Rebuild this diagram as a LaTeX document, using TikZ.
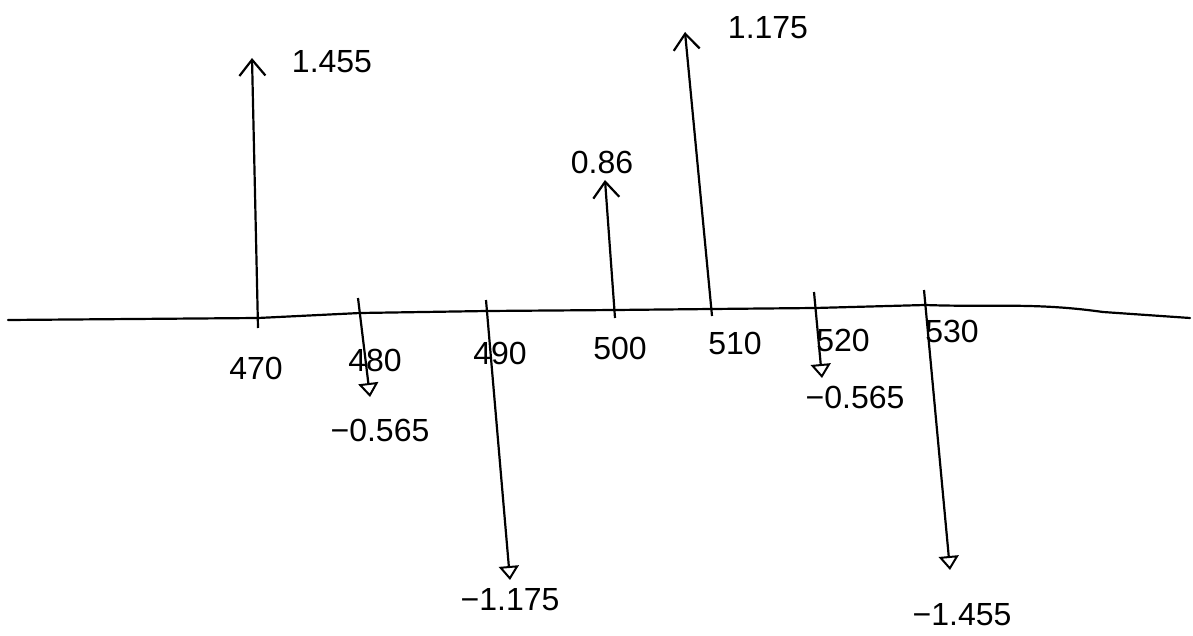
\documentclass[tikz,border=0pt]{standalone}
\usepackage{fontspec}
\setmainfont{Liberation Sans}
\usetikzlibrary{arrows.meta}
\begin{document}
\begin{tikzpicture}[x=1pt,y=-1pt,
  axisline/.style={line width=2.2pt,line cap=round},
  uparrow/.style={line width=2.2pt,-{Straight Barb[length=16pt,width=26pt,line width=2.2pt]}},
  downarrow/.style={line width=2.2pt,-{Triangle[open,length=14pt,width=20pt,line width=2pt]}},
  val/.style={font=\fontsize{32}{36}\selectfont,inner sep=0pt},
  tick/.style={font=\fontsize{32}{36}\selectfont,inner sep=0pt}]
\useasboundingbox (0,0) rectangle (1193,636);
% axis points
\coordinate (a0) at (8,320);
\coordinate (p470) at (258,318);
\coordinate (p480) at (360,313);
\coordinate (p490) at (487,311);
\coordinate (p500) at (615,310);
\coordinate (p510) at (712,309);
\coordinate (p520) at (815,308);
\coordinate (p530) at (925,305);
\coordinate (a1) at (1103,312);
\coordinate (a2) at (1190,318);
\draw[axisline] (a0) -- (p470) -- (p480) -- (p490) -- (p500) -- (p510) -- (p520) -- (p530) to[out=-2,in=172] (a1) -- (a2);
% tips
\coordinate (t470) at (252,58);
\coordinate (t480) at (370,397);
\coordinate (t490) at (510,580);
\coordinate (t500) at (605,180);
\coordinate (t510) at (685,32);
\coordinate (t520) at (822,378);
\coordinate (t530) at (950,570);
% tick stubs above axis
\coordinate (s480) at (358,298);
\coordinate (s490) at (486,300);
\coordinate (s520) at (814,292);
\coordinate (s530) at (924,290);
\coordinate (u470) at (258,328);
\coordinate (u500) at (615,318);
\coordinate (u510) at (712,316);
% arrows
\draw[uparrow] (u470) -- (t470);
\draw[uparrow] (u500) -- (t500);
\draw[uparrow] (u510) -- (t510);
\draw[downarrow] (s480) -- (t480);
\draw[downarrow] (s490) -- (t490);
\draw[downarrow] (s520) -- (t520);
\draw[downarrow] (s530) -- (t530);
% value labels
\node[val] (v470) at (332,62) {1.455};
\node[val] (v510) at (768,28) {1.175};
\node[val] (v500) at (602,162) {0.86};
\node[val] (v480) at (380,430) {−0.565};
\node[val] (v490) at (510,600) {−1.175};
\node[val] (v520) at (855,397) {−0.565};
\node[val] (v530) at (962,615) {−1.455};
% tick labels
\node[tick] (l470) at (256,368) {470};
\node[tick] (l480) at (375,360) {480};
\node[tick] (l490) at (500,353) {490};
\node[tick] (l500) at (620,348) {500};
\node[tick] (l510) at (735,343) {510};
\node[tick] (l520) at (843,340) {520};
\node[tick] (l530) at (952,331) {530};
\end{tikzpicture}
\end{document}
